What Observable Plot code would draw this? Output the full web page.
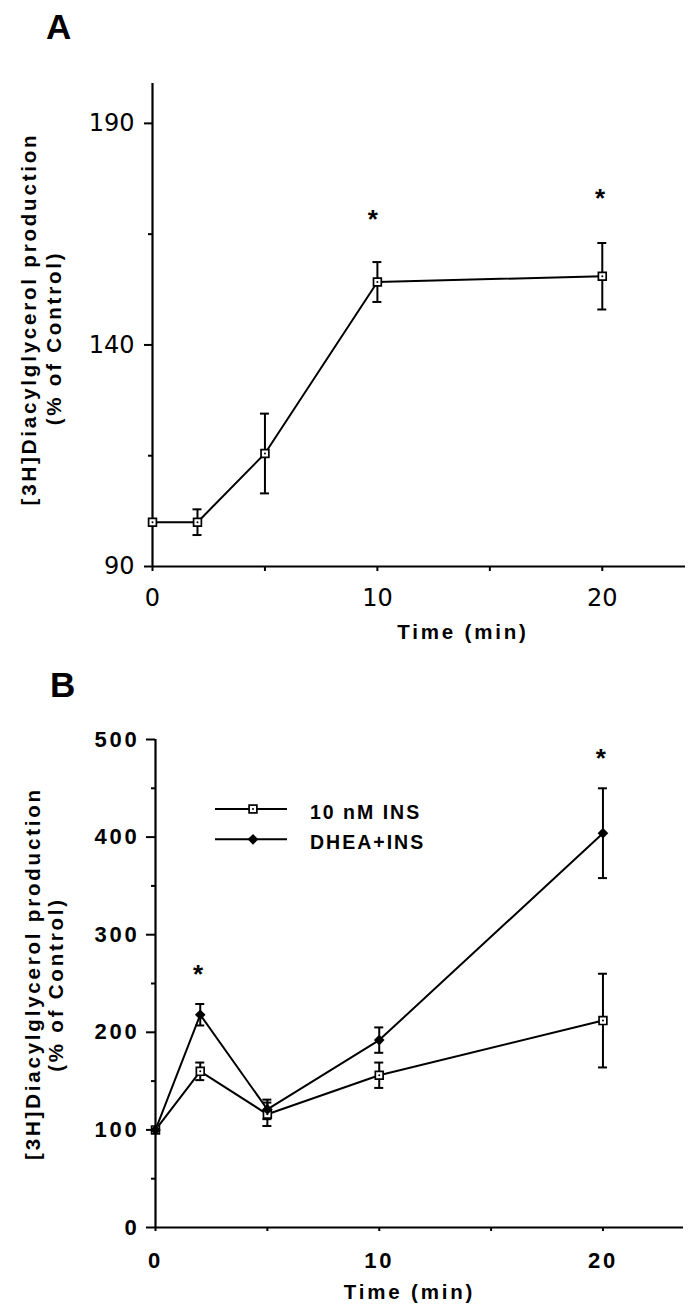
<!DOCTYPE html>
<html><head><meta charset="utf-8">
<script src="https://cdn.jsdelivr.net/npm/d3@7"></script>
<script src="https://cdn.jsdelivr.net/npm/@observablehq/plot@0.6"></script>
<style>
html,body{margin:0;padding:0;background:#fff}
body{width:689px;height:1309px;position:relative;overflow:hidden}
.panel{position:absolute;left:0}
.letter{position:absolute;font-family:"Liberation Sans",Arial,sans-serif;font-weight:bold;font-size:35px;line-height:35px;color:#000}
#legend{position:absolute;left:0;top:780px}
</style></head><body>
<div class="letter" style="left:46px;top:9px">A</div>
<div class="letter" style="left:50px;top:667px">B</div>
<div id="pA" class="panel" style="top:0"></div>
<div id="pB" class="panel" style="top:660px"></div>
<div id="legend"></div>
<script>
// ---- data ----
const timeMin = [0, 2, 5, 10, 20];
// Panel A
const dagPctA = [100, 100, 115.5, 154.2, 155.5];
const dagErrA = [0, 2.9, 9, 4.5, 7.5];
const sigTimeA = [9.8, 19.9];
const sigPosA = [169.7, 174.4];
const yTicksMajorA = [90, 140, 190];
const yTicksMinorA = [115, 165];
const xTicks = [0, 5, 10, 15, 20];
const xLabels = [0, 10, 20];
// Panel B
const seriesNames = ["10 nM INS", "DHEA+INS"];
const insPctB = [100, 160, 116, 156, 212];
const insErrB = [0, 9, 12, 13, 48];
const dheaPctB = [100, 218, 121, 192, 404];
const dheaErrB = [0, 11, 10, 13, 46];
const sigTimeB = [1.9, 19.9];
const sigPosB = [265, 487];
const yTicksMajorB = [0, 100, 200, 300, 400, 500];
const yTicksMinorB = [50, 150, 250, 350, 450];
// texts
const yLabel1 = "[3H]Diacylglycerol production";
const yLabel2 = "(% of Control)";
const xLabel = "Time (min)";

const bold = "Liberation Sans, Arial, sans-serif";
const rowsA = timeMin.map((t, i) => ({t, v: dagPctA[i], e: dagErrA[i]}));
const errA = rowsA.filter(d => d.e > 0);
const starsA = sigTimeA.map((t, i) => ({t, v: sigPosA[i]}));

const lw = 2;
function errMarks(err) {
  return [
    Plot.ruleX(err, {x: "t", y1: d => d.v - d.e, y2: d => d.v + d.e, strokeWidth: lw}),
    Plot.ruleY(err, {x1: "t", x2: "t", y: d => d.v + d.e, insetLeft: -4.5, insetRight: -4.5, strokeWidth: lw}),
    Plot.ruleY(err, {x1: "t", x2: "t", y: d => d.v - d.e, insetLeft: -4.5, insetRight: -4.5, strokeWidth: lw})
  ];
}
function squareMarks(rows) {
  return [
    Plot.dot(rows, {x: "t", y: "v", symbol: "square", r: 4.4, fill: "white", stroke: "black", strokeWidth: 1.7}),
    Plot.dot(rows, {x: "t", y: "v", r: 1, fill: "black", stroke: "none"})
  ];
}
function starMarks(stars) {
  return Plot.text(stars, {x: "t", y: "v", text: () => "*", fontSize: 26, fontFamily: bold, fontWeight: "bold", dy: 6});
}
function yLab(text, dx, dy) {
  return Plot.text([text], {text: d => d, frameAnchor: "left", textAnchor: "middle", lineAnchor: "middle", rotate: -90, dx, dy, fontSize: 20.5, fontWeight: "bold", fontFamily: bold});
}

const plotA = Plot.plot({
  width: 689, height: 660,
  marginTop: 83, marginBottom: 94, marginLeft: 152, marginRight: 4,
  x: {domain: [0, 23.7]},
  y: {domain: [90, 199]},
  style: "font-family: 'DejaVu Sans'; font-size: 24px; color: #000; background: transparent;",
  marks: [
    Plot.axisY({ticks: yTicksMajorA, tickSize: 8, tickPadding: 10, strokeWidth: lw, label: null, fontSize: 24, fontFamily: "DejaVu Sans"}),
    Plot.axisY({ticks: yTicksMinorA, tickSize: 4, tickFormat: () => "", strokeWidth: lw, label: null}),
    Plot.axisX({ticks: xTicks, tickSize: 5, tickPadding: 17, tickFormat: d => xLabels.includes(d) ? String(d) : "", strokeWidth: lw, label: null, fontSize: 24, fontFamily: "DejaVu Sans"}),
    Plot.ruleX([0], {strokeWidth: 2.2}),
    Plot.ruleY([90], {strokeWidth: 2.2}),
    ...errMarks(errA),
    Plot.line(rowsA, {x: "t", y: "v", strokeWidth: lw}),
    ...squareMarks(rowsA),
    starMarks(starsA),
    yLab(yLabel1, -123, -6),
    yLab(yLabel2, -98, 13),
    Plot.text([xLabel], {text: d => d, frameAnchor: "bottom", textAnchor: "middle", dx: 44, dy: 72, fontSize: 20.5, fontWeight: "bold", fontFamily: bold})
  ]
});
d3.select(plotA).selectAll("text").filter(function() {
  return [yLabel1, yLabel2, xLabel].includes(this.textContent);
}).style("letter-spacing", "2.8px");
document.getElementById("pA").appendChild(plotA);

// Panel B
const insRows = timeMin.map((t, i) => ({t, v: insPctB[i], e: insErrB[i]}));
const dheaRows = timeMin.map((t, i) => ({t, v: dheaPctB[i], e: dheaErrB[i]}));
const starsB = sigTimeB.map((t, i) => ({t, v: sigPosB[i]}));

const plotB = Plot.plot({
  width: 689, height: 649,
  marginTop: 79, marginBottom: 82, marginLeft: 155, marginRight: 6,
  x: {domain: [0, 23.6]},
  y: {domain: [0, 500]},
  style: "font-family: 'Liberation Sans', Arial, sans-serif; font-weight: bold; font-size: 22px; color: #000; background: transparent;",
  marks: [
    Plot.axisY({ticks: yTicksMajorB, tickSize: 9, tickPadding: 7, strokeWidth: lw, label: null, fontSize: 22, fontWeight: "bold", fontFamily: bold}),
    Plot.axisY({ticks: yTicksMinorB, tickSize: 4, tickFormat: () => "", strokeWidth: lw, label: null}),
    Plot.axisX({ticks: xTicks, tickSize: 4, tickPadding: 21, tickFormat: d => xLabels.includes(d) ? String(d) : "", strokeWidth: lw, label: null, fontSize: 22, fontWeight: "bold", fontFamily: bold}),
    Plot.ruleX([0], {strokeWidth: 2.2}),
    Plot.ruleY([0], {strokeWidth: 2.2}),
    ...errMarks(insRows.filter(d => d.e > 0)),
    ...errMarks(dheaRows.filter(d => d.e > 0)),
    Plot.line(insRows, {x: "t", y: "v", strokeWidth: lw}),
    Plot.line(dheaRows, {x: "t", y: "v", strokeWidth: lw}),
    ...squareMarks(insRows),
    Plot.dot(dheaRows, {x: "t", y: "v", symbol: "diamond2", r: 4.8, fill: "black", stroke: "none"}),
    starMarks(starsB),
    yLab(yLabel1, -122, -10),
    yLab(yLabel2, -99, 1),
    Plot.text([xLabel], {text: d => d, frameAnchor: "bottom", textAnchor: "middle", dx: -10, dy: 71, fontSize: 20.5, fontWeight: "bold", fontFamily: bold})
  ]
});
d3.select(plotB).selectAll("text").filter(function() {
  return this.textContent !== "*";
}).style("letter-spacing", "2.8px");
document.getElementById("pB").appendChild(plotB);

// Legend (overlay, page coordinates offset by top:780)
const lg = d3.select("#legend").append("svg").attr("width", 689).attr("height", 90);
const legendRows = [
  {name: seriesNames[0], y: 29, kind: "square"},
  {name: seriesNames[1], y: 59.3, kind: "diamond"}
];
legendRows.forEach(r => {
  lg.append("line").attr("x1", 215).attr("x2", 287).attr("y1", r.y).attr("y2", r.y).attr("stroke", "#000").attr("stroke-width", lw);
  if (r.kind === "square") {
    lg.append("rect").attr("x", 253 - 3.9).attr("y", r.y - 3.9).attr("width", 7.8).attr("height", 7.8).attr("fill", "#fff").attr("stroke", "#000").attr("stroke-width", 1.7);
    lg.append("circle").attr("cx", 253).attr("cy", r.y).attr("r", 1).attr("fill", "#000");
  } else {
    lg.append("path").attr("d", d3.symbol(d3.symbolDiamond2, 4.8 * 4.8 * Math.PI)()).attr("transform", `translate(253,${r.y})`).attr("fill", "#000");
  }
  lg.append("text").attr("x", 310).attr("y", r.y + 10).text(r.name)
    .attr("font-family", bold).attr("font-weight", "bold").attr("font-size", 19.5).style("letter-spacing", "2px");
});
</script>
</body></html>
